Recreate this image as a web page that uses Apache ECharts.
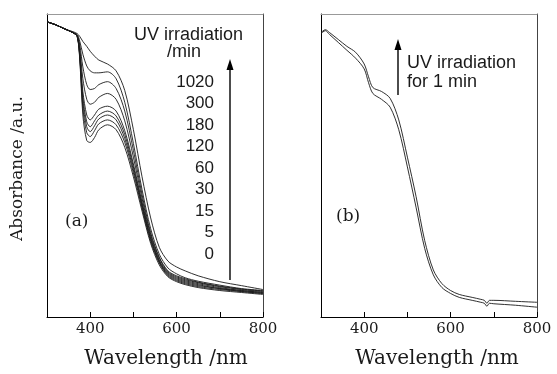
<!DOCTYPE html>
<html>
<head>
<meta charset="utf-8">
<script src="https://cdn.jsdelivr.net/npm/echarts@6/dist/echarts.min.js"></script>
<style>
  html, body { margin: 0; padding: 0; background: #fff; }
  #chart { width: 557px; height: 374px; }
</style>
</head>
<body>
<div id="chart"></div>
<script>
// panel (a): spectra after increasing UV irradiation time
const wlA = [300, 320, 340, 360, 370, 376, 383, 392, 400, 410, 420, 440, 460, 480, 500, 520, 540, 560, 580, 600, 620, 650, 700, 750, 800];
const min0 = [3.01, 2.98, 2.94, 2.90, 2.86, 2.61, 2.06, 1.80, 1.78, 1.83, 1.91, 1.96, 1.91, 1.73, 1.43, 1.08, 0.75, 0.53, 0.41, 0.36, 0.33, 0.30, 0.27, 0.25, 0.23];
const min5 = [3.01, 2.98, 2.94, 2.90, 2.86, 2.63, 2.13, 1.88, 1.84, 1.90, 1.97, 2.01, 1.96, 1.78, 1.47, 1.11, 0.77, 0.55, 0.42, 0.37, 0.34, 0.31, 0.28, 0.26, 0.24];
const min15 = [3.01, 2.98, 2.94, 2.90, 2.86, 2.65, 2.19, 1.94, 1.89, 1.95, 2.02, 2.06, 2.01, 1.82, 1.50, 1.13, 0.79, 0.56, 0.43, 0.38, 0.35, 0.32, 0.29, 0.26, 0.24];
const min30 = [3.01, 2.98, 2.94, 2.90, 2.86, 2.66, 2.24, 1.99, 1.94, 2.00, 2.06, 2.10, 2.05, 1.86, 1.53, 1.15, 0.80, 0.57, 0.44, 0.39, 0.36, 0.33, 0.29, 0.27, 0.25];
const min60 = [3.01, 2.98, 2.94, 2.90, 2.86, 2.68, 2.30, 2.06, 2.01, 2.06, 2.12, 2.15, 2.10, 1.90, 1.56, 1.17, 0.82, 0.58, 0.45, 0.40, 0.37, 0.34, 0.30, 0.27, 0.25];
const min120 = [3.01, 2.98, 2.94, 2.90, 2.87, 2.73, 2.43, 2.22, 2.17, 2.19, 2.24, 2.28, 2.22, 2.00, 1.63, 1.21, 0.84, 0.60, 0.46, 0.41, 0.38, 0.35, 0.31, 0.28, 0.26];
const min180 = [3.01, 2.98, 2.94, 2.90, 2.87, 2.77, 2.55, 2.37, 2.32, 2.33, 2.37, 2.40, 2.33, 2.10, 1.70, 1.25, 0.86, 0.61, 0.47, 0.42, 0.39, 0.355, 0.315, 0.285, 0.265];
const min300 = [3.01, 2.98, 2.94, 2.90, 2.88, 2.81, 2.68, 2.56, 2.51, 2.49, 2.49, 2.50, 2.43, 2.19, 1.77, 1.30, 0.90, 0.64, 0.50, 0.44, 0.40, 0.365, 0.325, 0.29, 0.27];
const min1020 = [3.01, 2.98, 2.94, 2.91, 2.89, 2.86, 2.81, 2.76, 2.71, 2.66, 2.62, 2.58, 2.51, 2.31, 1.91, 1.43, 1.01, 0.71, 0.57, 0.51, 0.47, 0.42, 0.36, 0.32, 0.28];
const timeLabels = ["1020", "300", "180", "120", "60", "30", "15", "5", "0"];

// panel (b): before and after 1 min UV
const wlB = [300, 310, 320, 340, 360, 380, 400, 410, 420, 440, 460, 480, 500, 520, 540, 560, 580, 600, 620, 650, 670, 678, 684, 690, 700, 750, 800];
const afterUV = [2.90, 2.93, 2.90, 2.83, 2.76, 2.70, 2.58, 2.45, 2.34, 2.30, 2.23, 2.01, 1.63, 1.23, 0.78, 0.48, 0.34, 0.27, 0.23, 0.20, 0.18, 0.17, 0.14, 0.17, 0.17, 0.16, 0.15];
const beforeUV = [2.89, 2.92, 2.88, 2.80, 2.72, 2.64, 2.53, 2.39, 2.28, 2.22, 2.14, 1.91, 1.53, 1.12, 0.70, 0.43, 0.30, 0.24, 0.20, 0.17, 0.15, 0.14, 0.11, 0.14, 0.135, 0.12, 0.10];

const xTicks = [400, 600, 800];

const serif = "DejaVu Serif";
const sans = "Liberation Sans";
const ink = "#1a1a1a";

function pairs(xs, ys) {
  return xs.map((x, i) => [x, ys[i]]);
}

function spectrum(xs, ys, idx) {
  return {
    type: "line",
    xAxisIndex: idx,
    yAxisIndex: idx,
    data: pairs(xs, ys),
    smooth: 0.3,
    showSymbol: false,
    silent: true,
    lineStyle: { color: ink, width: 0.9 },
  };
}

function bottomAxis(idx, shift) {
  return {
    type: "value",
    gridIndex: idx,
    position: "bottom",
    min: 300,
    max: 800,
    interval: 100,
    axisLine: { onZero: false, lineStyle: { color: "#000", width: 1 } },
    axisTick: { inside: true, length: 5, lineStyle: { color: "#000" } },
    splitLine: { show: false },
    axisLabel: {
      margin: 5,
      fontFamily: serif,
      fontSize: 15,
      color: ink,
      formatter(v) {
        return xTicks.includes(v) ? String(v) : "";
      },
    },
    name: "Wavelength /nm",
    nameLocation: "middle",
    nameGap: 32,
    nameTextStyle: { fontFamily: serif, fontSize: 20, color: ink, padding: [0, 0, 0, shift] },
  };
}

function topAxis(idx) {
  return {
    type: "value",
    gridIndex: idx,
    position: "top",
    min: 300,
    max: 800,
    axisLine: { onZero: false, lineStyle: { color: "#999", width: 1 } },
    axisTick: { show: false },
    axisLabel: { show: false },
    splitLine: { show: false },
  };
}

function sideAxis(idx, pos, name) {
  return {
    type: "value",
    gridIndex: idx,
    position: pos,
    min: 0,
    max: 3.09,
    axisLine: { show: true, onZero: false, lineStyle: { color: pos === "left" ? "#000" : "#444", width: 1 } },
    axisTick: { show: false },
    axisLabel: { show: false },
    splitLine: { show: false },
    name: name || "",
    nameLocation: "middle",
    nameGap: 21,
    nameTextStyle: { fontFamily: serif, fontSize: 17, color: ink, padding: [0, 6, 0, 0] },
  };
}

function arrow(x, yTop, yBottom) {
  return [
    {
      type: "line",
      shape: { x1: x, y1: yBottom, x2: x, y2: yTop + 8 },
      style: { stroke: "#000", lineWidth: 1.4 },
    },
    {
      type: "polygon",
      shape: { points: [[x, yTop], [x - 3.5, yTop + 11], [x + 3.5, yTop + 11]] },
      style: { fill: "#000" },
    },
  ];
}

function label(text, x, y, opts) {
  return {
    type: "text",
    x: x,
    y: y,
    style: Object.assign(
      { text: text, fill: ink, fontFamily: sans, fontSize: 18, textVerticalAlign: "middle" },
      opts || {}
    ),
  };
}

const graphics = [
  label("UV irradiation", 134, 35),
  label("/min", 167, 52),
  ...timeLabels.map((t, i) => label(t, 214, 82 + i * 21.5, { textAlign: "right", fontSize: 17 })),
  ...arrow(230, 59, 280),
  label("(a)", 65, 222, { fontFamily: serif, fontSize: 17 }),
  ...arrow(398, 39, 95),
  label("UV irradiation", 407, 63),
  label("for 1 min", 407, 82),
  label("(b)", 336, 217, { fontFamily: serif, fontSize: 17 }),
];

const chart = echarts.init(document.getElementById("chart"), null, { renderer: "canvas" });

chart.setOption({
  animation: false,
  backgroundColor: "#fff",
  grid: [
    { left: 47, top: 14, width: 216, height: 309 },
    { left: 321, top: 14, width: 216, height: 309 },
  ],
  xAxis: [bottomAxis(0, 22), bottomAxis(1, 16), topAxis(0), topAxis(1)],
  yAxis: [
    sideAxis(0, "left", "Absorbance /a.u."),
    sideAxis(1, "left"),
    sideAxis(0, "right"),
    sideAxis(1, "right"),
  ],
  series: [
    spectrum(wlA, min0, 0),
    spectrum(wlA, min5, 0),
    spectrum(wlA, min15, 0),
    spectrum(wlA, min30, 0),
    spectrum(wlA, min60, 0),
    spectrum(wlA, min120, 0),
    spectrum(wlA, min180, 0),
    spectrum(wlA, min300, 0),
    spectrum(wlA, min1020, 0),
    spectrum(wlB, beforeUV, 1),
    spectrum(wlB, afterUV, 1),
  ],
  graphic: graphics,
});
</script>
</body>
</html>
